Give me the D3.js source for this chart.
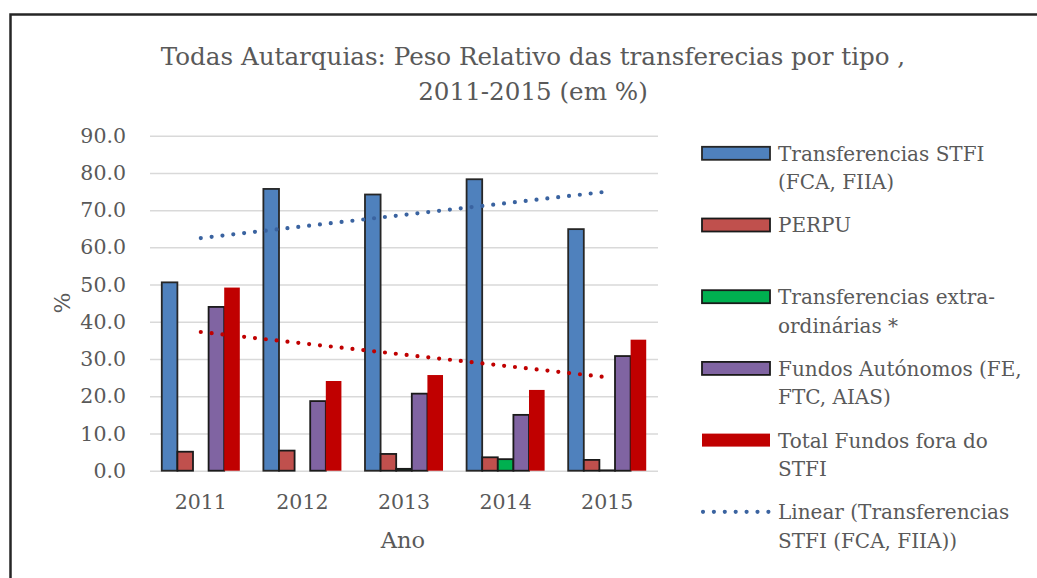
<!DOCTYPE html>
<html>
<head>
<meta charset="utf-8">
<script src="https://cdnjs.cloudflare.com/ajax/libs/d3/7.8.5/d3.min.js"></script>
<style>
    html, body { margin: 0; padding: 0; background: #fff; }
    svg text { font-family: 'DejaVu Serif', 'Liberation Serif', serif; fill: #595959; }
</style>
</head>
<body>
<svg id="chart" width="1037" height="578"></svg>
<script>
(function(){
'use strict';
/* globals d3 */

// --- data ---
var years = ['2011', '2012', '2013', '2014', '2015'];
var seriesNames = [
    'Transferencias STFI (FCA, FIIA)',
    'PERPU',
    'Transferencias extra-ordinárias *',
    'Fundos Autónomos (FE, FTC, AIAS)',
    'Total Fundos fora do STFI'
];
var stfi      = [50.6, 75.7, 74.2, 78.3, 64.9];
var perpu     = [5.1, 5.4, 4.5, 3.6, 2.9];
var extra     = [0.0, 0.0, 0.5, 3.1, 0.1];
var autonomos = [44.0, 18.7, 20.7, 15.0, 30.8];
var foraStfi  = [49.2, 24.1, 25.7, 21.7, 35.2];
var yTicks = [0, 10, 20, 30, 40, 50, 60, 70, 80, 90];
var legendLabels = [
    ['Transferencias STFI', '(FCA, FIIA)'],
    ['PERPU'],
    ['Transferencias extra-', 'ordinárias *'],
    ['Fundos Autónomos (FE,', 'FTC, AIAS)'],
    ['Total Fundos fora do', 'STFI'],
    ['Linear (Transferencias', 'STFI (FCA, FIIA))']
];
var titleLines = [
    'Todas Autarquias: Peso Relativo das transferecias por tipo ,',
    '2011-2015 (em %)'
];

var fills   = ['#4F81BD', '#C0504D', '#00B050', '#8064A2', '#C00000'];
var strokes = ['#262626', '#1a1a1a', '#1a1a1a', '#1a1a1a', 'none'];
var trendBlue = '#3A63A0';
var trendRed  = '#C00000';

var allSeries = [stfi, perpu, extra, autonomos, foraStfi];

var svg = d3.select('#chart');
var plot = {left: 150, right: 658, top: 135.7, bottom: 470.7};

// chart frame (runs off the right and bottom of the picture)
svg.append('rect')
    .attr('x', 10.5).attr('y', 14.5)
    .attr('width', 1100).attr('height', 700)
    .attr('fill', 'none')
    .attr('stroke', '#262626')
    .attr('stroke-width', 2.5);

// title
svg.append('text')
    .attr('text-anchor', 'middle')
    .attr('font-size', 24.6)
    .selectAll('tspan')
    .data(titleLines)
    .enter().append('tspan')
    .attr('x', 533)
    .attr('y', function(d, i){ return 65 + i * 35; })
    .text(function(d){ return d; });

var x = d3.scaleBand()
    .domain(years)
    .range([plot.left, plot.right])
    .paddingInner(0.232)
    .paddingOuter(0.116);

var xInner = d3.scaleBand()
    .domain(d3.range(seriesNames.length))
    .range([0, x.bandwidth()]);

var y = d3.scaleLinear()
    .domain([0, 90])
    .range([plot.bottom, plot.top]);

// y axis with grid lines
var yAxis = svg.append('g')
    .attr('transform', 'translate(' + plot.left + ',0)')
    .call(d3.axisLeft(y)
        .tickValues(yTicks)
        .tickSize(-(plot.right - plot.left))
        .tickPadding(24)
        .tickFormat(d3.format('.1f')));
yAxis.select('.domain').remove();
yAxis.selectAll('line').attr('stroke', '#D9D9D9').attr('stroke-width', 1.5);
yAxis.selectAll('text')
    .attr('font-family', 'DejaVu Serif, serif')
    .attr('font-size', 20.5)
    .attr('fill', '#595959');

// x axis labels
var xAxis = svg.append('g')
    .attr('transform', 'translate(0,' + plot.bottom + ')')
    .call(d3.axisBottom(x).tickSize(0).tickPadding(24));
xAxis.select('.domain').remove();
xAxis.selectAll('text')
    .attr('font-family', 'DejaVu Serif, serif')
    .attr('font-size', 20.5)
    .attr('fill', '#595959');

// axis titles
svg.append('text')
    .attr('x', 403)
    .attr('y', 548)
    .attr('text-anchor', 'middle')
    .attr('font-size', 22.5)
    .text('Ano');

svg.append('text')
    .attr('transform', 'translate(70,303) rotate(-90)')
    .attr('text-anchor', 'middle')
    .attr('font-size', 22)
    .text('%');

// bars
var groups = svg.append('g').selectAll('g')
    .data(allSeries)
    .enter().append('g')
    .attr('fill', function(d, i){ return fills[i]; })
    .attr('stroke', function(d, i){ return strokes[i]; })
    .attr('stroke-width', 1.8);

groups.each(function(values, si){
    d3.select(this).selectAll('rect')
        .data(values)
        .enter().append('rect')
        .attr('x', function(d, i){ return x(years[i]) + xInner(si); })
        .attr('y', function(d){ return y(d); })
        .attr('width', xInner.bandwidth())
        .attr('height', function(d){ return y(0) - y(d); });
});

/**
 * Least squares fit over 1..n, like the Excel linear trend line
 * @param {Array} values Series values
 */
function linearFit(values){
    var n = values.length,
        mx = (n + 1) / 2,
        my = d3.mean(values),
        num = 0, den = 0;
    values.forEach(function(v, i){
        num += (i + 1 - mx) * (v - my);
        den += (i + 1 - mx) * (i + 1 - mx);
    });
    var slope = num / den;
    return values.map(function(v, i){ return my + slope * (i + 1 - mx); });
}

var trendLine = d3.line()
    .x(function(d, i){ return x(years[i]) + x.bandwidth() / 2; })
    .y(function(d){ return y(d); });

[[stfi, trendBlue], [foraStfi, trendRed]].forEach(function(t){
    svg.append('path')
        .attr('d', trendLine(linearFit(t[0])))
        .attr('fill', 'none')
        .attr('stroke', t[1])
        .attr('stroke-width', 4.2)
        .attr('stroke-linecap', 'round')
        .attr('stroke-dasharray', '0 10.9');
});

// legend
var legend = svg.append('g').selectAll('g')
    .data(legendLabels)
    .enter().append('g')
    .attr('transform', function(d, i){ return 'translate(702,' + (153.3 + i * 71.7) + ')'; });

legend.each(function(lines, i){
    var g = d3.select(this);
    if (i < fills.length){
        g.append('rect')
            .attr('x', 0).attr('y', -6.5)
            .attr('width', 68).attr('height', 13)
            .attr('fill', fills[i])
            .attr('stroke', strokes[i])
            .attr('stroke-width', 1.8);
    } else {
        g.append('line')
            .attr('x1', 1).attr('x2', 69)
            .attr('stroke', trendBlue)
            .attr('stroke-width', 4.2)
            .attr('stroke-linecap', 'round')
            .attr('stroke-dasharray', '0 10.9');
    }
    g.append('text')
        .attr('font-size', 20)
        .selectAll('tspan')
        .data(lines)
        .enter().append('tspan')
        .attr('x', 76)
        .attr('y', function(d, j){ return 7.4 + j * 28.5; })
        .text(function(d){ return d; });
});

})();
</script>
</body>
</html>
